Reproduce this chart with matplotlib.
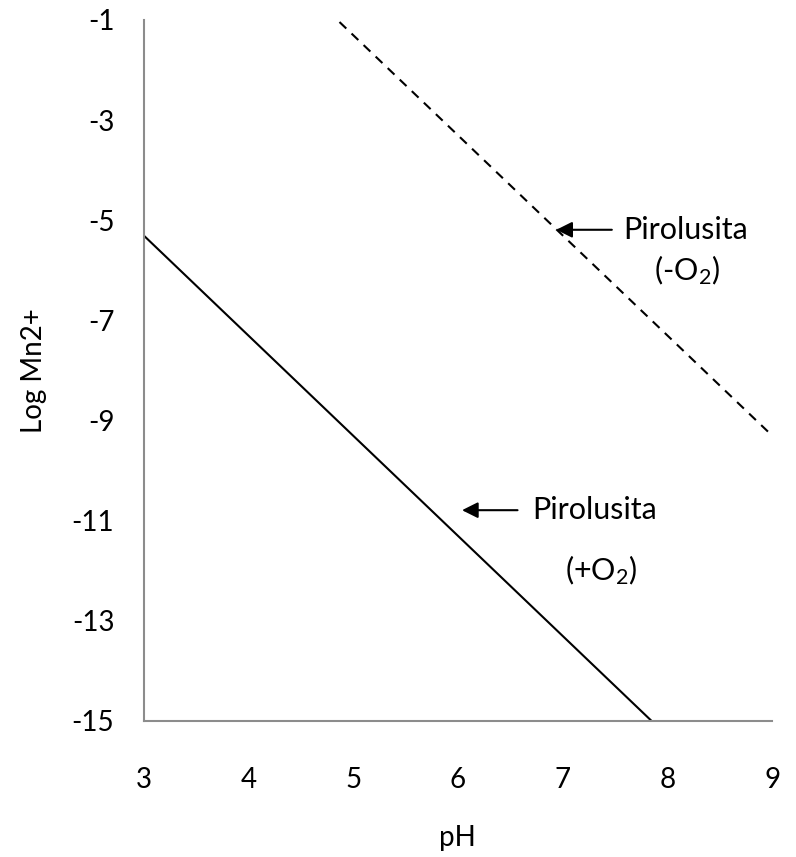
import numpy as np
import matplotlib
matplotlib.use('Agg')
import matplotlib.pyplot as plt

plt.rcParams['font.family'] = ['Lato', 'DejaVu Sans']
plt.rcParams['mathtext.fontset'] = 'custom'
plt.rcParams['mathtext.rm'] = 'Lato'
plt.rcParams['mathtext.it'] = 'Lato'
plt.rcParams['axes.unicode_minus'] = False

# datos
ph = [3, 4, 5, 6, 7, 8, 9]
log_mn_mas_o2 = [-5.3, -7.3, -9.3, -11.3, -13.3, -15.3, -17.3]
log_mn_menos_o2 = [2.7, 0.7, -1.3, -3.3, -5.3, -7.3, -9.3]
x_ticks = [3, 4, 5, 6, 7, 8, 9]
y_ticks = [-1, -3, -5, -7, -9, -11, -13, -15]

fig = plt.figure(figsize=(7.96, 8.57), dpi=100)
ax = fig.add_axes([0.1803, 0.1587, 0.7897, 0.8180])

ax.plot(ph, log_mn_mas_o2, color='black', lw=1.5)
ax.plot(ph, log_mn_menos_o2, color='black', lw=1.5, dashes=(4.5, 3.5))

ax.set_xlim(3, 9)
ax.set_ylim(-15, -1)
ax.set_xticks(x_ticks)
ax.set_yticks(y_ticks)
ax.tick_params(length=0, labelsize=20)
ax.tick_params(axis='y', pad=21)
ax.tick_params(axis='x', pad=33)

for s in ['top', 'right']:
    ax.spines[s].set_visible(False)
for s in ['left', 'bottom']:
    ax.spines[s].set_color('#8c8c8c')
    ax.spines[s].set_linewidth(1.5)

ax.set_xlabel('pH', fontsize=20, labelpad=23)
ax.set_ylabel('Log Mn2+', fontsize=20, labelpad=18)

flecha = dict(arrowstyle='-|>', color='black', lw=1.5, mutation_scale=24,
              shrinkA=0, shrinkB=0)
ax.annotate('', xy=(6.94, -5.19), xytext=(7.47, -5.19), arrowprops=flecha)
ax.text(7.58, -5.19, 'Pirolusita', fontsize=22, ha='left', va='center')
ax.text(8.19, -6.0, r'(-O$_2$)', fontsize=22, ha='center', va='center')

ax.annotate('', xy=(6.04, -10.79), xytext=(6.57, -10.79), arrowprops=flecha)
ax.text(6.71, -10.79, 'Pirolusita', fontsize=22, ha='left', va='center')
ax.text(7.37, -11.98, r'(+O$_2$)', fontsize=22, ha='center', va='center')

fig.savefig('out.png', dpi=100)
plt.close(fig)
